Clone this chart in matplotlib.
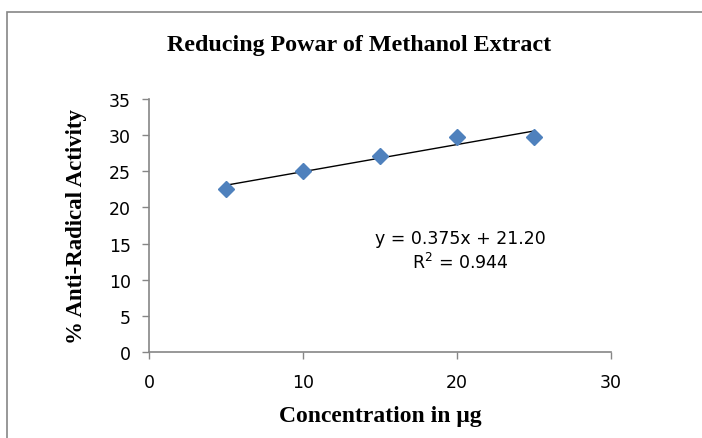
import numpy as np
import matplotlib.pyplot as plt
from matplotlib.patches import Rectangle

# data
conc = [5, 10, 15, 20, 25]
activity = [22.5, 25.0, 27.1, 29.7, 29.7]
slope = 0.375
intercept = 21.20
r2 = 0.944

x_ticks = [0, 10, 20, 30]
y_ticks = [0, 5, 10, 15, 20, 25, 30, 35]

fig = plt.figure(figsize=(7.02, 4.39), dpi=100)
ax = fig.add_axes([0.2123, 0.1959, 0.6581, 0.5763])

# outer chart border (cut off at right and bottom like the reference)
fig.patches.append(Rectangle((7 / 702, -0.05), 1.2, 1 - 13 / 439 + 0.05,
                             transform=fig.transFigure, fill=False,
                             edgecolor="#868686", linewidth=1.2))

ax.plot(conc, activity, linestyle="none", marker="D", markersize=8.5,
        color="#4F81BD", zorder=3)

xs = np.array([conc[0], conc[-1]])
ax.plot(xs, slope * xs + intercept, color="black", linewidth=1, zorder=2)

ax.set_xlim(0, 30)
ax.set_ylim(0, 35)
ax.set_xticks(x_ticks)
ax.set_yticks(y_ticks)

for s in ["top", "right"]:
    ax.spines[s].set_visible(False)
for s in ["left", "bottom"]:
    ax.spines[s].set_color("#868686")
    ax.spines[s].set_linewidth(1.2)
ax.tick_params(colors="#868686", length=5, width=1, labelcolor="black",
               labelsize=12.5)
ax.tick_params(axis="x", pad=10)
ax.tick_params(axis="y", pad=8)
for lab in ax.get_xticklabels() + ax.get_yticklabels():
    lab.set_fontfamily("DejaVu Sans")

ax.text(0.673, 0.40, f"y = {slope:.3f}x + {intercept:.2f}\nR$^2$ = {r2:.3f}",
        transform=ax.transAxes, fontsize=12.5, ha="center", va="center",
        linespacing=1.3, family="DejaVu Sans")

ax.set_xlabel("Concentration in μg", family="Liberation Serif",
              fontweight="bold", fontsize=17, labelpad=10)
ax.set_ylabel("% Anti-Radical Activity", family="Liberation Serif",
              fontweight="bold", fontsize=16.5, labelpad=16)
fig.text(0.512, 0.897, "Reducing Powar of Methanol Extract",
         family="Liberation Serif", fontweight="bold", fontsize=17.3,
         ha="center", va="center")

fig.savefig("out.png", dpi=100)
